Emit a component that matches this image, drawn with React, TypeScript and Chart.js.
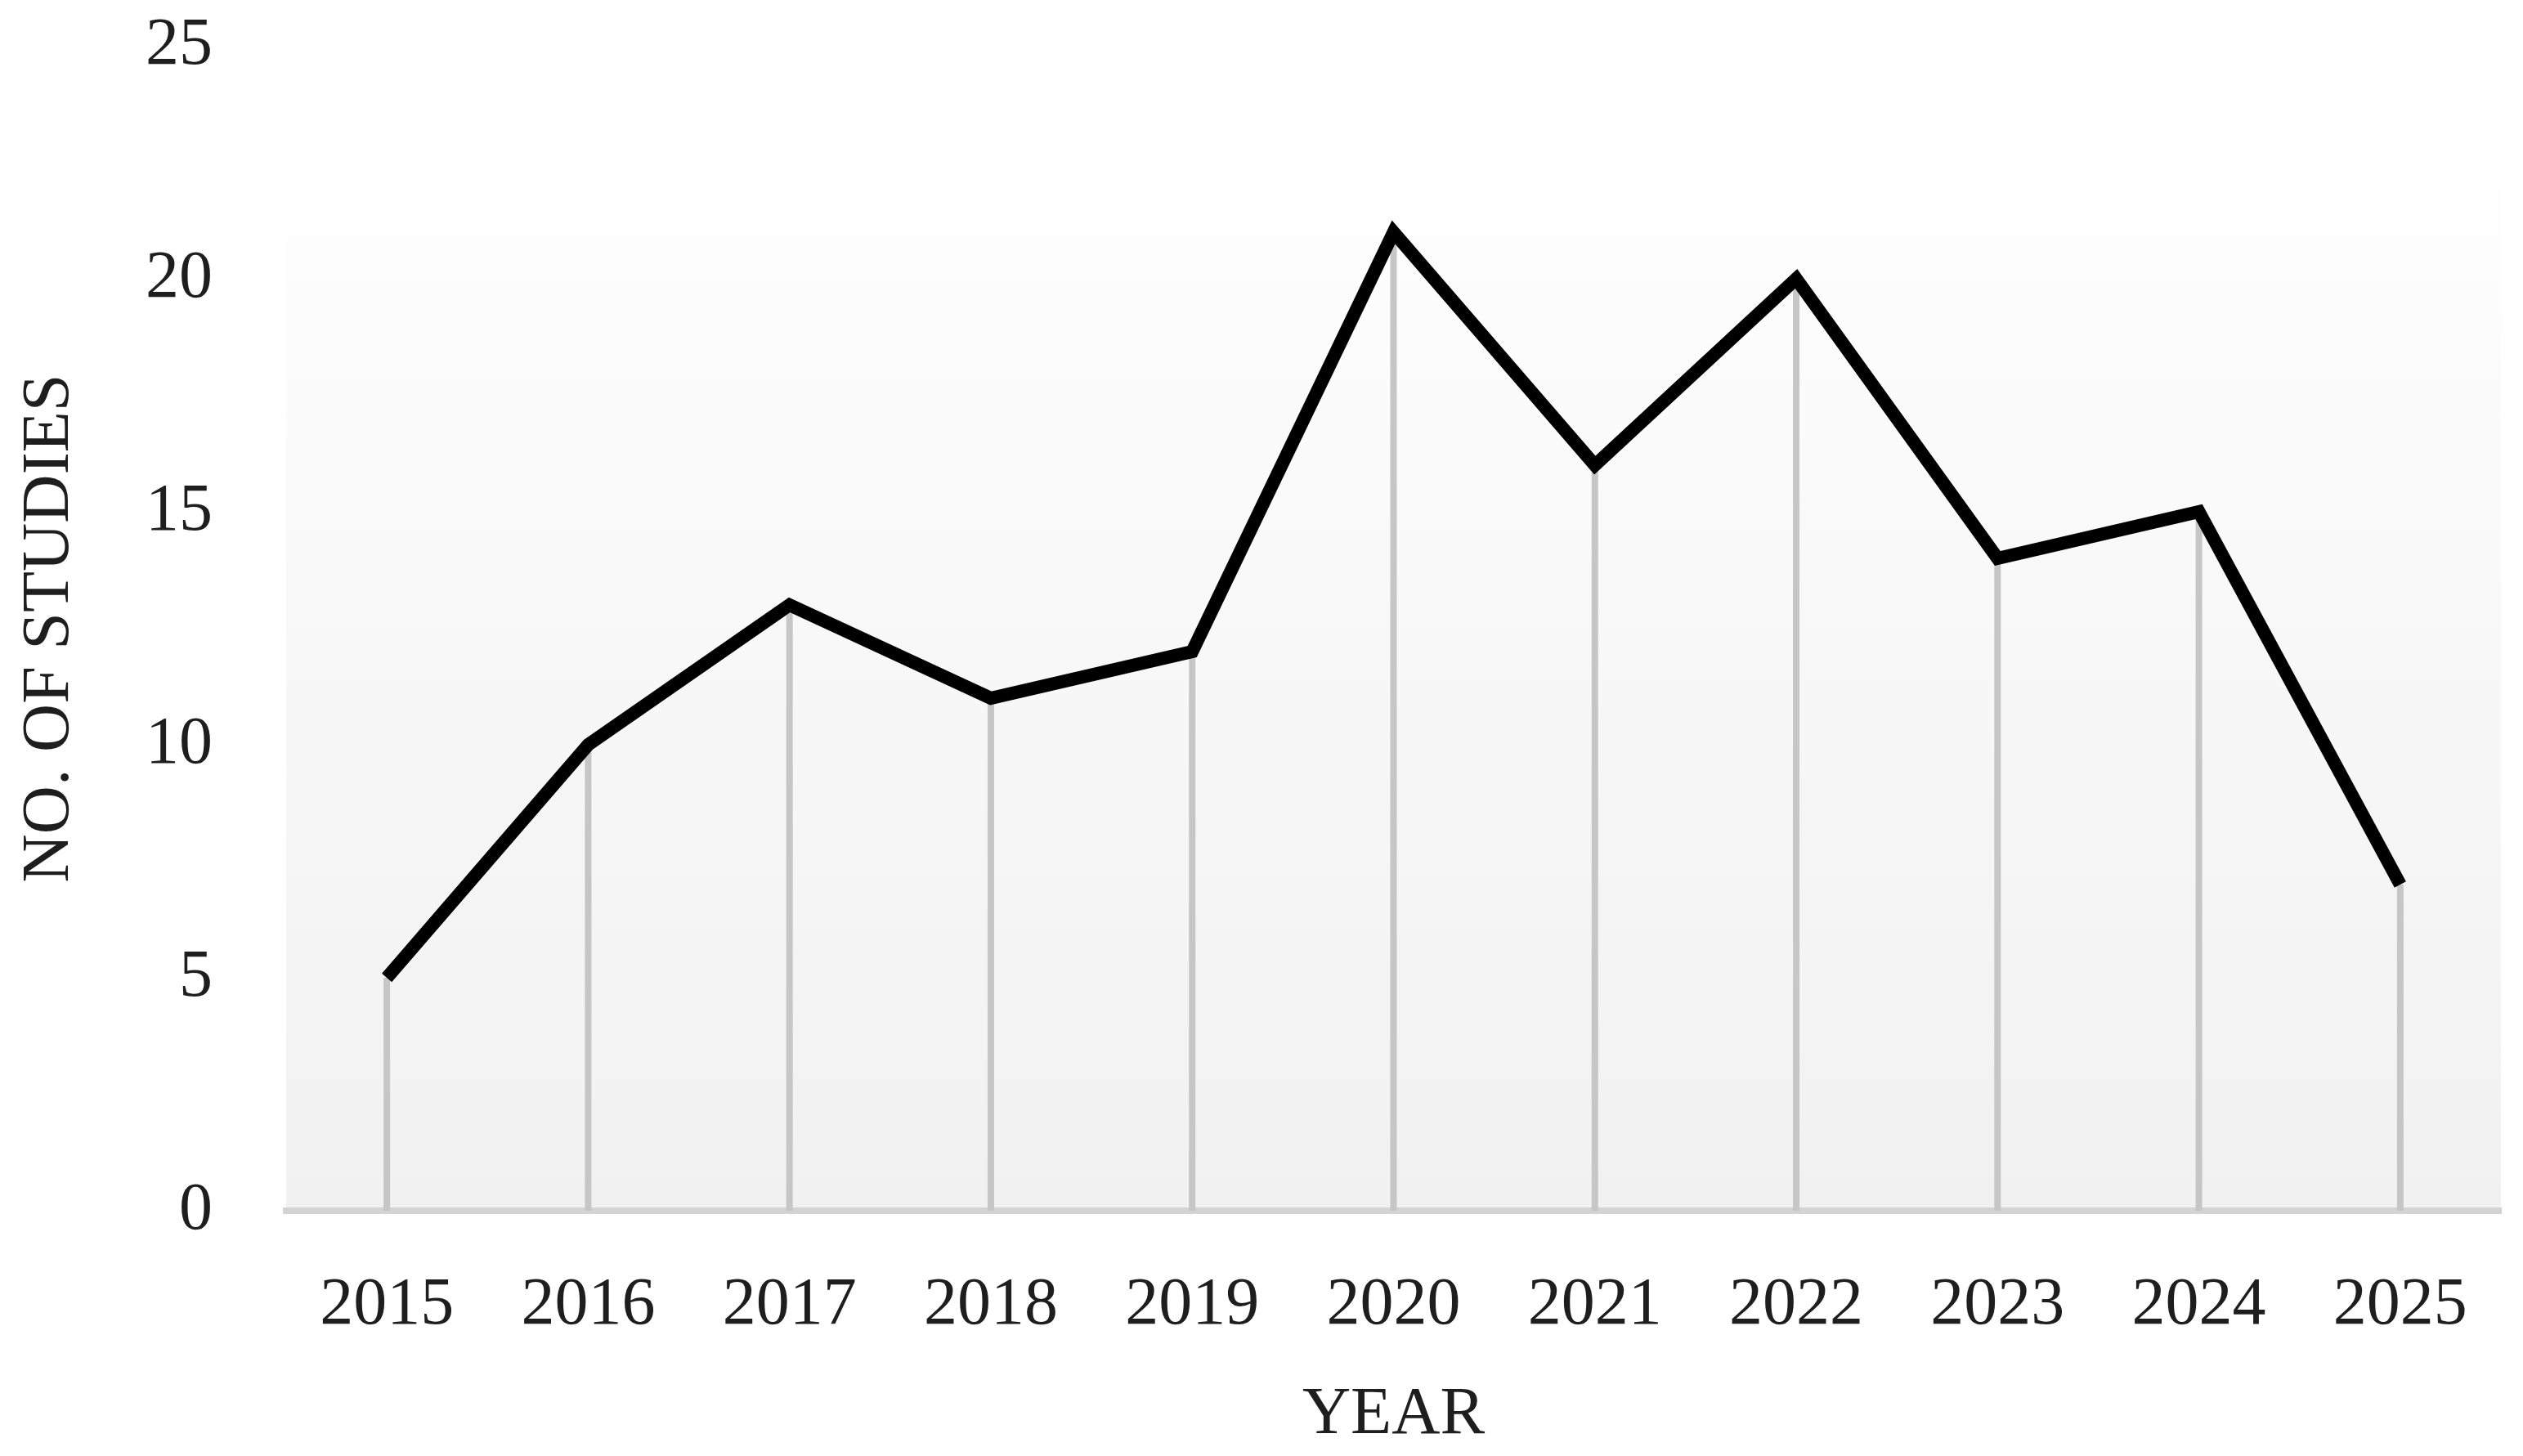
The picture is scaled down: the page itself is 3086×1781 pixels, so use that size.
import React, { useEffect, useRef } from "react";
import { Chart, registerables } from "chart.js";

Chart.register(...registerables);

const years = ["2015", "2016", "2017", "2018", "2019", "2020", "2021", "2022", "2023", "2024", "2025"];
const studies = [5, 10, 13, 11, 12, 21, 16, 20, 14, 15, 7];
const yTitle = "NO. OF STUDIES";
const xTitle = "YEAR";

const FONT = "'Liberation Serif', 'Times New Roman', serif";
const TEXT = "#1e1e1e";

const backgroundPlugin = {
  id: "plotGradient",
  beforeDraw(chart: any) {
    const { ctx, chartArea } = chart;
    if (!chartArea) return;
    const top = chartArea.top + 164;
    const g = ctx.createLinearGradient(0, top, 0, chartArea.bottom);
    g.addColorStop(0, "#fefefe");
    g.addColorStop(1, "#f1f1f1");
    ctx.save();
    ctx.fillStyle = g;
    ctx.fillRect(chartArea.left, top, chartArea.right - chartArea.left, chartArea.bottom - top);
    ctx.restore();
  },
};

const dropLinePlugin = {
  id: "dropLines",
  beforeDatasetsDraw(chart: any) {
    const { ctx } = chart;
    const meta = chart.getDatasetMeta(0);
    const yScale = chart.scales.y;
    const base = yScale.getPixelForValue(0);
    ctx.save();
    ctx.strokeStyle = "#c6c6c6";
    ctx.lineWidth = 8;
    meta.data.forEach((pt: any) => {
      ctx.beginPath();
      ctx.moveTo(pt.x, pt.y);
      ctx.lineTo(pt.x, base);
      ctx.stroke();
    });
    ctx.restore();
  },
};

export default function App() {
  const canvasRef = useRef<HTMLCanvasElement | null>(null);

  useEffect(() => {
    document.body.style.margin = "0";
    const canvas = canvasRef.current;
    if (!canvas) return;
    const chart = new Chart(canvas, {
      type: "line",
      data: {
        labels: years,
        datasets: [
          {
            data: studies,
            borderColor: "#000000",
            borderWidth: 16,
            borderJoinStyle: "miter",
            borderCapStyle: "butt",
            pointRadius: 0,
            tension: 0,
            fill: false,
          },
        ],
      },
      options: {
        animation: false,
        responsive: true,
        maintainAspectRatio: false,
        devicePixelRatio: 1,
        layout: { padding: { top: 56, right: 27, left: 0, bottom: 0 } },
        plugins: {
          legend: { display: false },
          tooltip: { enabled: false },
          title: { display: false },
        },
        scales: {
          x: {
            offset: true,
            grid: { display: false, drawTicks: false },
            border: { display: true, color: "#d3d3d3", width: 8 },
            ticks: {
              color: TEXT,
              font: { family: FONT, size: 82 },
              padding: 67,
              maxRotation: 0,
              autoSkip: false,
            },
            title: {
              display: true,
              text: xTitle,
              color: TEXT,
              font: { family: FONT, size: 82 },
              padding: { top: 0, bottom: 0 },
            },
            afterFit(scale: any) {
              scale.height = 300;
              scale.paddingLeft = 0;
              scale.paddingRight = 0;
            },
          },
          y: {
            min: 0,
            max: 25,
            grid: { display: false, drawTicks: false },
            border: { display: false },
            ticks: {
              stepSize: 5,
              color: TEXT,
              font: { family: FONT, size: 82 },
              padding: 90,
            },
            title: {
              display: true,
              text: yTitle,
              color: TEXT,
              font: { family: FONT, size: 82 },
              padding: { top: 12, bottom: 0 },
            },
            afterFit(scale: any) {
              scale.width = 350;
              scale.paddingTop = 0;
              scale.paddingBottom = 0;
            },
          },
        },
      },
      plugins: [backgroundPlugin, dropLinePlugin],
    });
    return () => chart.destroy();
  }, []);

  return (
    <div style={{ width: 3086, height: 1781, position: "relative", background: "#ffffff" }}>
      <canvas ref={canvasRef} />
    </div>
  );
}
